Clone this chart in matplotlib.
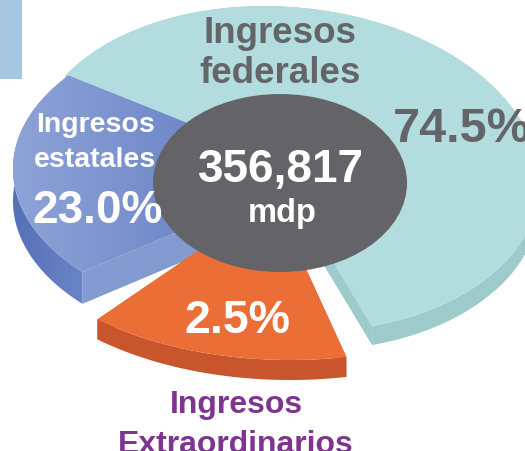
import numpy as np
import matplotlib.pyplot as plt
from matplotlib.patches import Polygon, Ellipse, Rectangle
from matplotlib.colors import to_rgb

plt.rcParams['font.family'] = ['Liberation Sans', 'DejaVu Sans']

# datos
categorias = ['Ingresos\nfederales', 'Ingresos\nestatales', 'Ingresos\nExtraordinarios']
porcentajes = [74.5, 23.0, 2.5]
total_mdp = 356817
unidad = 'mdp'

# geometria de cada rebanada (pixeles, y hacia abajo): centro, radios, giro, angulos, vertice, grosor
geo = [
    dict(c=(285, 170), a=255, b=162, th=5, t0=-152.8, t1=66.8, apex=(270, 158), d=19,
         top=('#B2DCDD', '#B2DCDD'), side=('#9DCACB', '#9DCACB'), rad='#9DCACB'),
    dict(c=(268, 170), a=255, b=150, th=0, t0=136.7, t1=218.5, apex=(315, 175), d=32,
         top=('#8EA3D7', '#5874BE'), side=('#5570B6', '#6A85C6'), rad='#849BD1'),
    dict(c=(290, 200), a=290, b=161, th=0, t0=78.8, t1=131.6, apex=(274, 200), d=20,
         top=('#EC6E37', '#EC6E37'), side=('#C9552D', '#C9552D'), rad='#C9552D'),
]


def arco(cx, cy, a, b, th, t0, t1, n=150):
    t = np.radians(np.linspace(t0, t1, n))
    th = np.radians(th)
    u, v = a * np.cos(t), b * np.sin(t)
    x = cx + u * np.cos(th) - v * np.sin(th)
    y = cy + u * np.sin(th) + v * np.cos(th)
    return np.column_stack([x, y])


def relleno(ax, verts, c1, c2, z):
    patch = Polygon(verts, closed=True, facecolor='none', edgecolor='none', zorder=z)
    ax.add_patch(patch)
    if c1 == c2:
        patch.set_facecolor(c1)
        return
    x0, x1 = verts[:, 0].min(), verts[:, 0].max()
    y0, y1 = verts[:, 1].min(), verts[:, 1].max()
    g = np.linspace(0, 1, 256)[None, :, None]
    img = (1 - g) * np.array(to_rgb(c1))[None, None, :] + g * np.array(to_rgb(c2))[None, None, :]
    im = ax.imshow(img, extent=[x0, x1, y1, y0], aspect='auto', zorder=z, interpolation='bilinear')
    im.set_clip_path(patch)


def renglones(x, y0, texto, salto, **kw):
    # un texto por renglon, alineado por la linea base
    for i, r in enumerate(texto.split('\n')):
        ax.text(x, y0 + i * salto, r, ha='center', va='baseline', zorder=11, **kw)


fig = plt.figure(figsize=(5.25, 4.52), dpi=100)
ax = fig.add_axes([0, 0, 1, 1])
ax.set_facecolor('#EEF2F9')
ax.add_patch(Rectangle((0, 0), 525, 80, facecolor='white', edgecolor='none', zorder=0))
ax.add_patch(Rectangle((0, 0), 22, 80, facecolor='#A7C6E0', edgecolor='none', zorder=0))

z = 1
for g in geo:
    arc = arco(g['c'][0], g['c'][1], g['a'], g['b'], g['th'], g['t0'], g['t1'])
    apex = np.array(g['apex'], dtype=float)
    d = np.array([0, g['d']])
    cara = np.vstack([apex, arc])
    # costados radiales
    for p in (arc[0], arc[-1]):
        quad = np.array([apex, p, p + d, apex + d])
        ax.add_patch(Polygon(quad, closed=True, facecolor=g['rad'], edgecolor='none', zorder=z))
    # costado curvo
    banda = np.vstack([arc, (arc + d)[::-1]])
    relleno(ax, banda, g['side'][0], g['side'][1], z + 0.1)
    # cara superior
    relleno(ax, cara, g['top'][0], g['top'][1], z + 0.2)
    z += 1

ax.add_patch(Ellipse((280, 184), 254, 178, facecolor='#636368', edgecolor='none', zorder=10))

gris = '#636569'
renglones(280, 43, categorias[0], 40, fontsize=26.5, fontweight='bold', color=gris)
ax.text(393, 142, f'{porcentajes[0]:.1f}%', ha='left', va='baseline', fontsize=35,
        fontweight='bold', color=gris, zorder=11)
renglones(95, 132, categorias[1], 35, fontsize=20.5, fontweight='bold', color='white')
ax.text(98, 223, f'{porcentajes[1]:.1f}%', ha='center', va='baseline', fontsize=33,
        fontweight='bold', color='white', zorder=11)
ax.text(237, 333, f'{porcentajes[2]:.1f}%', ha='center', va='baseline', fontsize=33.5,
        fontweight='bold', color='white', zorder=11)
ax.text(281, 182, f'{total_mdp:,}', ha='center', va='baseline', fontsize=33,
        fontweight='bold', color='white', zorder=11)
ax.text(282, 222, unidad, ha='center', va='baseline', fontsize=23.5,
        fontweight='bold', color='white', zorder=11)
renglones(236, 413, categorias[2], 40, fontsize=23, fontweight='bold', color='#7E3590')

ax.set_xlim(0, 525)
ax.set_ylim(452, 0)
ax.axis('off')
fig.savefig('out.png', dpi=100)
